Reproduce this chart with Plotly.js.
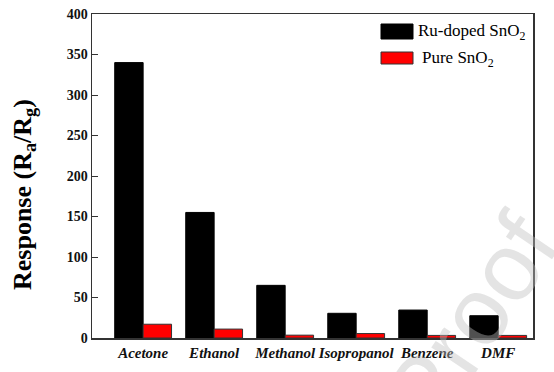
<!DOCTYPE html>
<html><head><meta charset="utf-8">
<script src="https://cdn.plot.ly/plotly-3.0.1.min.js"></script>
<style>html,body{margin:0;padding:0;background:#fff}#c{width:554px;height:372px}</style>
</head><body><div id="c"></div>
<script>
const categories = ["Acetone","Ethanol","Methanol","Isopropanol","Benzene","DMF"];
const ruDoped = [340, 155, 65, 30.5, 34.5, 27.5];
const pure = [17, 11, 3.5, 5.5, 3.2, 3.2];
const yTicks = [0,50,100,150,200,250,300,350,400];
const seriesNames = ["Ru-doped SnO<sub>2</sub>", "Pure SnO<sub>2</sub>"];

const serif = "Liberation Serif";
const traces = [
  {type:'bar', x:categories, y:ruDoped, name:seriesNames[0], marker:{color:'#000', line:{color:'#000',width:1}}},
  {type:'bar', x:categories, y:pure, name:seriesNames[1], marker:{color:'#ff0000', line:{color:'#333',width:1}}}
];
const layout = {
  width:554, height:372,
  margin:{l:92, r:21, t:14, b:34},
  paper_bgcolor:'#fff', plot_bgcolor:'#fff',
  showlegend:false,
  barmode:'group', bargap:0.2, bargroupgap:0,
  font:{family:serif},
  xaxis:{range:[-0.72,5.49], showline:true, mirror:true, linecolor:'#333', linewidth:1.5,
    ticks:'', showgrid:false, zeroline:false, tickangle:0,
    tickvals:categories, ticktext:categories.map(c => '<b><i>' + c + '</i></b>'),
    tickfont:{family:serif, size:15, color:'#111'}},
  yaxis:{range:[0,400], showline:true, mirror:true, linecolor:'#333', linewidth:1.5,
    ticks:'inside', ticklen:6, tickcolor:'#333', showgrid:false, zeroline:false,
    tickvals:yTicks, ticktext:yTicks.map(v => '<b>' + v + '</b>'),
    tickfont:{family:serif, size:14, color:'#111'}},
  shapes:[
    {type:'rect', xref:'paper', yref:'paper', x0:(381-92)/441, x1:(413-92)/441, y0:(338-39)/324, y1:(338-24)/324, fillcolor:'#000', line:{color:'#000',width:1}},
    {type:'rect', xref:'paper', yref:'paper', x0:(381-92)/441, x1:(413-92)/441, y0:(338-64)/324, y1:(338-52)/324, fillcolor:'#ff0000', line:{color:'#333',width:1}}
  ],
  annotations:[
    {text:'Proof', xref:'paper', yref:'paper', x:(470-92)/441, y:(338-320)/324, xanchor:'center', yanchor:'middle', showarrow:false, textangle:-56,
      font:{family:"Liberation Sans", size:96, color:'rgba(190,190,190,0.42)'}},
    {text:seriesNames[0], xref:'paper', yref:'paper', x:(416-92)/441, y:(338-32)/324, xanchor:'left', yanchor:'middle', showarrow:false,
      font:{family:serif, size:17, color:'#000'}},
    {text:seriesNames[1], xref:'paper', yref:'paper', x:(420-92)/441, y:(338-59)/324, xanchor:'left', yanchor:'middle', showarrow:false,
      font:{family:serif, size:17, color:'#000'}},
    {text:'<b>Response (R<sub>a</sub>/R<sub>g</sub>)</b>', xref:'paper', yref:'paper', x:(24-92)/441, y:(338-195)/324, xanchor:'center', yanchor:'middle',
      textangle:-90, showarrow:false, font:{family:serif, size:26, color:'#000'}}
  ]
};
Plotly.newPlot('c', traces, layout, {staticPlot:true, displayModeBar:false});
</script></body></html>
